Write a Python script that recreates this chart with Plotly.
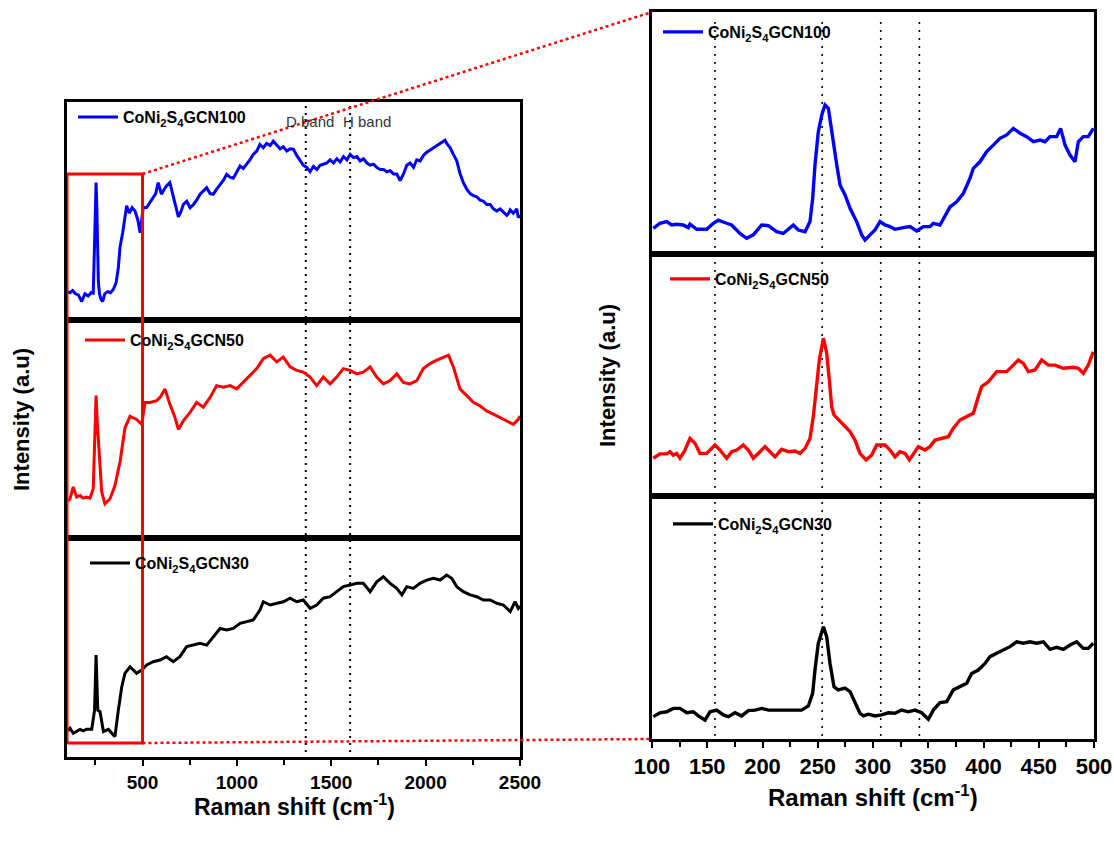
import plotly.graph_objects as go

# ---------------- data ----------------
series_names = ["CoNi<sub>2</sub>S<sub>4</sub>GCN100",
                "CoNi<sub>2</sub>S<sub>4</sub>GCN50",
                "CoNi<sub>2</sub>S<sub>4</sub>GCN30"]
series_colors = ["#0000ff", "#ff0000", "#000000"]

# full range spectra (left panel), intensity in a.u. (0-100 per panel)
shift_full_100 = [105, 116, 130, 145, 160, 178, 195, 212, 228, 239,
                  246, 250, 254, 258, 262, 266, 272, 280, 289, 300,
                  315, 330, 345, 360, 372, 381, 395, 405, 416, 430,
                  445, 460, 475, 487, 495, 504, 522, 540, 557, 570,
                  583, 600, 615, 627, 645, 663, 678, 690, 705, 716,
                  734, 752, 770, 787, 805, 822, 840, 858, 875, 893,
                  911, 928, 946, 964, 981, 999, 1017, 1034, 1052, 1070,
                  1087, 1105, 1122, 1140, 1158, 1176, 1193, 1211, 1229, 1246,
                  1264, 1282, 1299, 1317, 1335, 1352, 1370, 1388, 1406, 1424,
                  1441, 1459, 1477, 1494, 1512, 1530, 1547, 1565, 1583, 1600,
                  1618, 1636, 1653, 1671, 1689, 1706, 1724, 1741, 1759, 1777,
                  1795, 1812, 1830, 1847, 1865, 1883, 1900, 1918, 1936, 1953,
                  1971, 1988, 2006, 2024, 2041, 2059, 2077, 2094, 2103, 2112,
                  2130, 2147, 2165, 2183, 2200, 2218, 2236, 2253, 2271, 2289,
                  2306, 2324, 2342, 2359, 2377, 2395, 2412, 2430, 2440, 2448,
                  2465, 2483, 2491, 2500]
int_full_100 = [13, 12.5, 13.5, 12, 11.5, 8.5, 12, 11, 12.5, 12.3,
                35, 55, 63, 52, 33, 18, 12, 9.5, 8.5, 12,
                13, 12.5, 14, 17, 24, 33.5, 40, 45, 52.4, 49,
                51.5, 50, 46, 40, 47, 51.6, 51.6, 54, 56, 58,
                63, 57.7, 60, 61.5, 63, 57, 52, 47.3, 50, 53,
                54.5, 51.5, 53, 55, 57.7, 59, 60.7, 58, 57.7, 60,
                62, 64, 66.8, 65.5, 65, 68, 70.6, 69.5, 71.4, 73.5,
                76, 77.5, 80.5, 79, 81, 80, 82, 80, 78.5, 79.5,
                77.5, 78.5, 78.4, 75.5, 73, 71, 70, 68, 70.5, 69,
                71, 71.4, 72, 73.5, 72, 74, 72.5, 75, 73.5, 76,
                74.5, 75, 73, 74, 72, 71, 71.5, 70, 69, 69,
                68, 68.5, 67, 67, 64, 67, 71, 72, 70, 73.5,
                73, 75.5, 77, 78, 79, 80, 81, 82, 82.5, 81,
                79, 76, 73, 67, 63, 60, 58, 57, 56.5, 55,
                54.5, 53, 53, 51, 50, 51, 49.5, 48, 49, 50.5,
                49, 51, 47, 48]

shift_full_50 = [105, 116, 133, 151, 169, 186, 204, 222, 239, 247,
                 254, 261, 266, 275, 284, 301, 328, 354, 381, 407,
                 434, 469, 496, 513, 540, 575, 593, 619, 645, 672,
                 690, 716, 752, 787, 822, 858, 893, 928, 964, 999,
                 1034, 1070, 1105, 1140, 1176, 1211, 1246, 1282, 1317, 1352,
                 1388, 1423, 1458, 1494, 1529, 1564, 1600, 1635, 1670, 1706,
                 1741, 1776, 1812, 1847, 1882, 1917, 1953, 1988, 2023, 2059,
                 2094, 2121, 2147, 2182, 2218, 2253, 2288, 2323, 2359, 2394,
                 2429, 2465, 2491, 2500]
int_full_50 = [17, 18, 23.4, 18.8, 19.5, 18.3, 18.8, 18.3, 22.6, 44,
               65.3, 52, 44, 30.4, 21.1, 15.7, 18, 24.1, 35, 50.5,
               55.8, 54.4, 52.1, 62.2, 62.2, 63, 64.5, 68.4, 61.4, 55.3,
               49.8, 53.7, 57.6, 62.2, 60, 64.5, 69.9, 69.2, 69.9, 68.4,
               71.4, 74.6, 77.7, 82.3, 83.9, 80.8, 83, 78.5, 76.9, 76.1,
               73.8, 69.9, 73.8, 70.7, 73.8, 77.7, 76.9, 75.3, 76.1, 78.5,
               73.8, 70.7, 72.2, 75.3, 71.4, 70.7, 72.2, 77.7, 80, 81.6,
               83.1, 83.9, 78.5, 68.4, 65.3, 62.2, 60.6, 58.3, 56.8, 55.2,
               53.7, 52.1, 54.4, 56]

shift_full_30 = [105, 116, 133, 151, 169, 186, 204, 231, 246, 254,
                 263, 275, 293, 319, 337, 354, 372, 390, 407, 434,
                 469, 496, 522, 557, 593, 627, 663, 698, 734, 769,
                 805, 840, 875, 911, 946, 981, 1017, 1052, 1087, 1122,
                 1140, 1176, 1211, 1246, 1282, 1317, 1352, 1388, 1423, 1458,
                 1494, 1529, 1564, 1600, 1635, 1670, 1706, 1741, 1776, 1812,
                 1847, 1874, 1900, 1935, 1970, 2006, 2041, 2077, 2112, 2138,
                 2165, 2200, 2236, 2271, 2306, 2342, 2377, 2412, 2448, 2474,
                 2491, 2500]
int_full_30 = [12, 13.1, 10.8, 11.6, 12.6, 11.9, 12.7, 12.7, 21.4, 46.6,
               21.4, 20.7, 11.6, 12.6, 10.8, 9.3, 21.4, 32, 38.2, 41.2,
               38.2, 39.7, 42, 43.5, 44.3, 45.8, 43.5, 45.8, 50.4, 51.1,
               51.9, 51.1, 54.9, 58.7, 58, 58.7, 61, 61.8, 62.6, 67.1,
               70.9, 69.4, 70.2, 70.9, 72.5, 70.9, 71.7, 67.9, 69.4, 72.5,
               73.2, 75.5, 77.8, 78.5, 79.3, 79.3, 75.5, 80, 82.3, 79.3,
               77, 74, 77.8, 77, 79.3, 80.8, 81.6, 80.8, 83.1, 81.6,
               77.8, 75.5, 74, 73.2, 71.7, 71.7, 70.2, 69.4, 66.4, 70.9,
               67.9, 69]

# zoomed spectra 100-500 cm-1 (right panel)
shift_zoom_100 = [101.2, 107.2, 113.3, 117.8, 122.3, 128.3, 132.9, 134.4, 140.4, 149.5,
                  155.5, 160.0, 167.6, 172.1, 179.6, 185.7, 191.7, 199.2, 205.3, 212.8,
                  218.8, 227.9, 232.4, 238.5, 243.0, 245.4, 247.5, 250.5, 253.6, 256.6,
                  259.6, 262.6, 267.2, 270.2, 274.7, 279.2, 285.2, 289.8, 292.8, 297.3,
                  301.8, 306.3, 310.9, 315.4, 319.9, 327.5, 333.5, 339.5, 345.6, 351.6,
                  354.6, 360.6, 365.2, 369.7, 375.7, 381.8, 387.8, 390.8, 396.8, 402.9,
                  408.9, 414.9, 421.0, 427.0, 433.1, 439.1, 445.1, 451.2, 455.7, 460.2,
                  466.2, 469.8, 473.8, 478.3, 482.8, 485.8, 490.3, 494.8, 499.4]
int_zoom_100 = [10.6, 12.7, 13.4, 12.0, 12.3, 12.0, 10.9, 12.3, 10.2, 10.2,
                12.7, 14.0, 12.7, 12.0, 8.5, 6.5, 7.9, 12.0, 11.7, 9.2,
                8.5, 12.0, 9.9, 9.2, 13.4, 23.0, 36.8, 50.5, 57.4, 61.6,
                60.2, 50.5, 36.8, 28.5, 24.4, 18.9, 13.4, 7.9, 5.8, 7.9,
                9.9, 13.4, 12.0, 11.3, 10.2, 10.9, 11.3, 9.5, 11.3, 11.3,
                12.7, 12.0, 16.1, 19.5, 21.6, 25.1, 31.3, 35.4, 38.1, 42.3,
                45.0, 47.8, 49.2, 51.9, 49.9, 48.5, 46.4, 47.1, 46.4, 48.5,
                48.5, 51.9, 45.0, 40.9, 38.1, 46.4, 48.5, 48.5, 51.9]

shift_zoom_50 = [101.2, 107.2, 113.3, 116.3, 119.3, 122.3, 125.3, 129.9, 134.4, 138.9,
                 143.4, 149.5, 157.0, 161.5, 167.6, 172.1, 176.6, 182.7, 187.2, 191.7,
                 197.7, 202.3, 206.8, 211.3, 217.3, 223.4, 229.4, 233.9, 238.5, 243.0,
                 246.0, 248.4, 251.4, 255.1, 258.1, 260.5, 262.6, 264.7, 270.2, 279.2,
                 283.7, 288.2, 293.7, 298.8, 303.3, 310.9, 315.4, 319.9, 324.4, 329.0,
                 332.9, 336.5, 341.0, 347.1, 351.6, 356.1, 362.1, 368.2, 372.7, 378.7,
                 384.8, 390.8, 395.3, 398.3, 404.4, 408.9, 411.9, 421.0, 427.0, 431.5,
                 436.1, 440.6, 446.6, 452.7, 458.7, 464.7, 472.3, 481.3, 485.8, 490.3,
                 494.8, 499.4]
int_zoom_50 = [15.6, 17.4, 17.4, 18.3, 16.9, 17.6, 15.6, 19.0, 23.8, 21.8,
               17.6, 17.6, 21.1, 19.0, 15.6, 18.3, 19.0, 21.1, 19.0, 15.6,
               18.3, 20.4, 18.3, 16.2, 19.3, 18.3, 18.6, 17.6, 19.7, 23.8,
               32.8, 43.8, 56.2, 65.2, 59.0, 47.9, 36.9, 33.5, 30.7, 26.6,
               23.1, 17.6, 14.9, 16.9, 21.1, 21.1, 19.0, 16.2, 18.3, 17.6,
               14.9, 17.6, 20.4, 19.0, 20.4, 23.1, 23.8, 24.5, 28.0, 31.4,
               32.8, 34.2, 41.0, 45.2, 47.2, 50.0, 51.4, 51.4, 54.1, 56.2,
               54.8, 51.4, 52.1, 56.2, 54.1, 54.1, 52.8, 53.2, 52.8, 50.7,
               54.1, 59.6]

shift_zoom_30 = [101.2, 107.2, 113.3, 119.3, 125.3, 131.4, 137.4, 141.9, 148.0, 152.5,
                 158.5, 164.6, 169.1, 175.1, 181.1, 187.2, 193.2, 199.2, 205.3, 211.3,
                 217.3, 223.4, 229.4, 235.4, 241.5, 245.4, 247.5, 250.5, 255.1, 258.1,
                 261.1, 264.7, 268.6, 274.7, 279.2, 283.7, 288.2, 291.3, 295.8, 301.8,
                 307.8, 313.9, 319.9, 325.9, 332.0, 338.0, 344.0, 350.1, 354.6, 360.6,
                 366.7, 372.7, 378.7, 384.8, 389.3, 395.3, 401.4, 405.9, 411.9, 418.0,
                 424.0, 430.0, 436.1, 442.1, 448.1, 454.2, 460.2, 466.2, 472.3, 478.3,
                 484.3, 490.3, 494.8, 499.4]
int_zoom_30 = [9.2, 10.8, 11.2, 12.6, 12.6, 10.8, 11.2, 9.5, 7.8, 11.2,
               11.9, 9.9, 9.2, 10.8, 9.5, 11.7, 11.9, 12.6, 11.9, 11.9,
               11.9, 11.9, 11.7, 11.9, 13.6, 18.8, 28.4, 39.4, 46.2, 42.1,
               31.1, 21.5, 20.2, 20.9, 19.5, 14.7, 10.6, 9.5, 10.2, 9.5,
               9.9, 10.8, 10.6, 11.9, 11.2, 11.9, 10.8, 8.1, 11.9, 15.0,
               15.4, 20.2, 21.5, 22.9, 27.0, 28.4, 31.1, 33.9, 35.3, 36.6,
               38.0, 40.0, 39.4, 40.0, 39.4, 40.0, 36.9, 37.7, 36.9, 38.7,
               40.0, 37.3, 37.3, 39.4]

full_range = [100, 2500]
full_ticks = [500, 1000, 1500, 2000, 2500]
full_minor = [250, 750, 1250, 1750, 2250]
zoom_range = [100, 500]
zoom_ticks = [100, 150, 200, 250, 300, 350, 400, 450, 500]
zoom_minor = [125, 175, 225, 275, 325, 375, 425, 475]
band_lines = [1365, 1600]
band_labels = ["D band", "H band"]
band_label_x = [1388, 1690]
zoom_guides = [157, 254, 307, 342]
x_title = "<b>Raman shift (cm<sup>-1</sup>)</b>"
y_title = "<b>Intensity (a.u)</b>"

# ---------------- layout geometry ----------------
W, H = 1114, 843


def fx(p):
    return p / W


def fy(p):
    return 1 - p / H


LEFT_X = [67, 520]
RIGHT_X = [652, 1094]
LEFT_ROWS = [(102, 320), (320, 538), (538, 757)]
RIGHT_ROWS = [(12, 254), (254, 496), (496, 739)]
LEGEND_POS = [(78, 117), (85, 340), (90, 563), (663, 32), (670, 279), (673, 524)]

full_data = [(shift_full_100, int_full_100), (shift_full_50, int_full_50), (shift_full_30, int_full_30)]
zoom_data = [(shift_zoom_100, int_zoom_100), (shift_zoom_50, int_zoom_50), (shift_zoom_30, int_zoom_30)]

fig = go.Figure()
layout = dict(width=W, height=H, template="none",
              margin=dict(l=0, r=0, t=0, b=0, pad=0, autoexpand=False),
              paper_bgcolor="white", plot_bgcolor="white", showlegend=True)

FONT = "Arial"
NARROW = "Liberation Sans Narrow, Arial Narrow, Arial"

for i in range(6):
    k = i + 1
    left = i < 3
    row = i % 3
    xs, ys = (full_data if left else zoom_data)[row]
    sfx = "" if k == 1 else str(k)
    leg = "legend" + sfx
    fig.add_trace(go.Scatter(
        x=xs, y=ys, mode="lines", name=series_names[row],
        line=dict(color=series_colors[row], width=3.0 if left else 3.4),
        xaxis="x" + sfx, yaxis="y" + sfx, legend=leg, showlegend=True))

    xd = LEFT_X if left else RIGHT_X
    rows = LEFT_ROWS if left else RIGHT_ROWS
    top, bot = rows[row]
    bottom = row == 2
    xa = dict(domain=[fx(xd[0]), fx(xd[1])], anchor="y" + sfx,
              range=full_range if left else zoom_range, automargin=False,
              showline=True, mirror=True, linewidth=3, linecolor="black",
              showgrid=False, zeroline=False, showticklabels=bottom,
              ticks="outside" if bottom else "")
    if bottom:
        xa.update(tickmode="array", tickvals=full_ticks if left else zoom_ticks,
                  ticklen=6, tickwidth=2, tickcolor="black",
                  tickfont=dict(family=FONT if left else NARROW,
                                size=19 if left else 22, color="black", weight="bold"),
                  minor=dict(tickvals=full_minor if left else zoom_minor,
                             ticks="outside", ticklen=5, tickwidth=2, tickcolor="black",
                             showgrid=False))
    ya = dict(domain=[fy(bot), fy(top)], anchor="x" + sfx, range=[0, 100], automargin=False,
              showline=True, mirror=True, linewidth=3, linecolor="black",
              showgrid=False, zeroline=False, showticklabels=False, ticks="")
    layout["xaxis" + sfx] = xa
    layout["yaxis" + sfx] = ya

    lx, ly = LEGEND_POS[i]
    layout[leg] = dict(x=fx(lx - 5), y=fy(ly), xanchor="left", yanchor="middle",
                       bgcolor="rgba(0,0,0,0)", borderwidth=0, itemwidth=40,
                       font=dict(family=FONT, size=16, color="black", weight="bold"))

fig.update_layout(**layout)


# ---------- helper mapping data -> paper (uses axis ranges & domains) ----------
def left_paper_x(v):
    return fx(LEFT_X[0]) + (v - full_range[0]) / (full_range[1] - full_range[0]) * (fx(LEFT_X[1]) - fx(LEFT_X[0]))


shapes = []
# dotted band lines, left
for b in band_lines:
    shapes.append(dict(type="line", xref="x3", yref="paper", x0=b, x1=b,
                       y0=fy(752), y1=fy(106), layer="below",
                       line=dict(color="black", width=2, dash="2px,5px")))
# dotted guide lines, right
for g in zoom_guides:
    shapes.append(dict(type="line", xref="x6", yref="paper", x0=g, x1=g,
                       y0=fy(736), y1=fy(16), layer="below",
                       line=dict(color="black", width=1.6, dash="2px,6px")))
# red zoom window rectangle
shapes.append(dict(type="rect", xref="x3", yref="paper", x0=zoom_range[0],
                   x1=zoom_range[1], y0=fy(743), y1=fy(174), layer="above",
                   line=dict(color="#ff0000", width=3), fillcolor="rgba(0,0,0,0)"))
# red dotted connectors
shapes.append(dict(type="line", xref="paper", yref="paper",
                   x0=left_paper_x(zoom_range[1]), y0=fy(174), x1=fx(RIGHT_X[0]), y1=fy(RIGHT_ROWS[0][0]),
                   layer="above", line=dict(color="#ff0000", width=2.5, dash="3px,3px")))
shapes.append(dict(type="line", xref="paper", yref="paper",
                   x0=left_paper_x(zoom_range[1]), y0=fy(743), x1=fx(RIGHT_X[0]), y1=fy(RIGHT_ROWS[2][1]),
                   layer="above", line=dict(color="#ff0000", width=2.5, dash="3px,3px")))

annotations = []
for lab, bx in zip(band_labels, band_label_x):
    annotations.append(dict(text=lab, xref="x", yref="paper", x=bx, y=fy(122),
                            showarrow=False, xanchor="center", yanchor="middle",
                            font=dict(family=FONT, size=15, color="#333333")))
annotations.append(dict(text=x_title, xref="paper", yref="paper", x=fx(294), y=fy(805),
                        showarrow=False, xanchor="center", yanchor="middle",
                        font=dict(family=FONT, size=23, color="black")))
annotations.append(dict(text=x_title, xref="paper", yref="paper", x=fx(873), y=fy(796),
                        showarrow=False, xanchor="center", yanchor="middle",
                        font=dict(family=FONT, size=24, color="black")))
annotations.append(dict(text=y_title, xref="paper", yref="paper", x=fx(22), y=fy(420),
                        showarrow=False, xanchor="center", yanchor="middle", textangle=-90,
                        font=dict(family=FONT, size=22, color="black")))
annotations.append(dict(text=y_title, xref="paper", yref="paper", x=fx(607), y=fy(376),
                        showarrow=False, xanchor="center", yanchor="middle", textangle=-90,
                        font=dict(family=FONT, size=22, color="black")))

fig.update_layout(shapes=shapes, annotations=annotations)
fig.write_html("out.html")
